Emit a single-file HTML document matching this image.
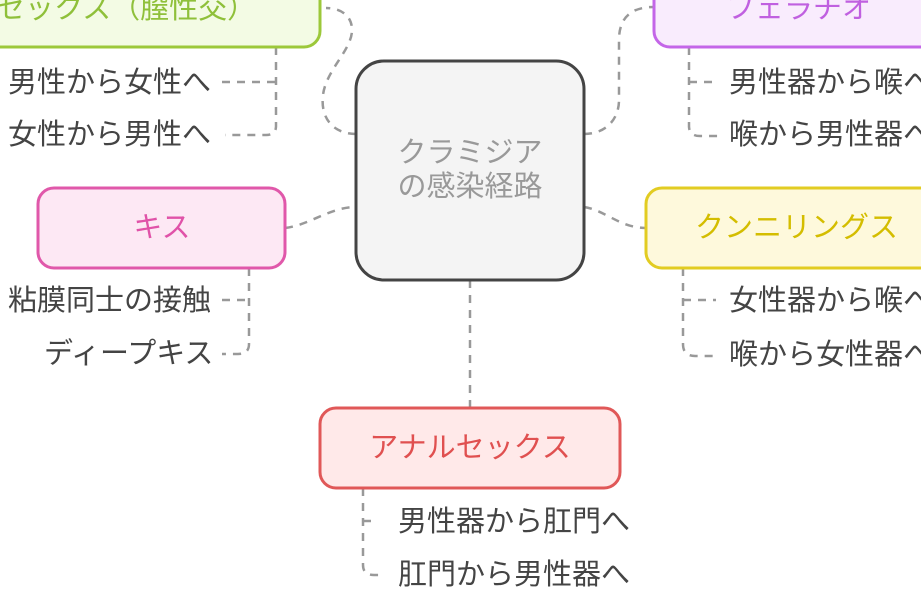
<!DOCTYPE html>
<html><head><meta charset="utf-8"><style>
html,body{margin:0;padding:0;background:#fff;width:921px;height:596px;overflow:hidden}
svg{display:block}
text{font-family:"Liberation Sans","Noto Sans CJK JP",sans-serif;font-size:29px}
.c{fill:#444}
.l{fill:none;stroke:#999;stroke-width:2.5;stroke-dasharray:8 7}
</style></head><body>
<svg width="921" height="596" viewBox="0 0 921 596" xmlns="http://www.w3.org/2000/svg">
<path class="l" d="M356 134 C335 134 320 120 323 95 C326 70 352 50 352 30 C352 15 340 8 326 8"/>
<path class="l" d="M276 47 V126 Q276 135 266 135 H225"/>
<path class="l" d="M222 82 H276"/>
<path class="l" d="M285 228 C310 225 330 207 356 207"/>
<path class="l" d="M249 268 V344 Q249 354 238 354 H222"/>
<path class="l" d="M222 300 H249"/>
<path class="l" d="M584 134 C605 134 619 120 619 100 V40 Q619 7 654 7"/>
<path class="l" d="M689 47 V126 Q689 136 700 136 H718"/>
<path class="l" d="M689 82 H716"/>
<path class="l" d="M584 207 C605 210 620 228 646 228"/>
<path class="l" d="M683 268 V344 Q683 356 695 356 H718"/>
<path class="l" d="M683 300 H716"/>
<path class="l" d="M470 280 V408"/>
<path class="l" d="M363 488 V565 Q363 575 374 575 H380"/>
<path class="l" d="M363 521 H376"/>
<rect x="356" y="61" width="228" height="219" rx="28" fill="#f4f4f4" stroke="#444" stroke-width="3"/>
<text x="470" y="162" text-anchor="middle" fill="#999">クラミジア</text>
<text x="470" y="196" text-anchor="middle" fill="#999">の感染経路</text>
<rect x="-20" y="-40" width="340" height="87" rx="16" fill="#f3fbe4" stroke="#9cc83a" stroke-width="3"/>
<text x="-4" y="18" fill="#8fc03a">セックス（膣性交）</text>
<text class="c" x="8" y="92">男性から女性へ</text>
<text class="c" x="8" y="144">女性から男性へ</text>
<rect x="38" y="188" width="247" height="80" rx="16" fill="#fde8f4" stroke="#e058aa" stroke-width="3"/>
<text x="162" y="237" text-anchor="middle" fill="#e052a8">キス</text>
<text class="c" x="8" y="310">粘膜同士の接触</text>
<text class="c" x="44" y="363">ディープキス</text>
<rect x="654" y="-40" width="300" height="87" rx="16" fill="#f9ecfd" stroke="#c466e8" stroke-width="3"/>
<text x="726" y="18" fill="#c060e0">フェラチオ</text>
<text class="c" x="729" y="92">男性器から喉へ</text>
<text class="c" x="729" y="144">喉から男性器へ</text>
<rect x="646" y="188" width="300" height="80" rx="16" fill="#fef9dc" stroke="#e2cc22" stroke-width="3"/>
<text x="695" y="237" fill="#d4bd00">クンニリングス</text>
<text class="c" x="729" y="310">女性器から喉へ</text>
<text class="c" x="729" y="364">喉から女性器へ</text>
<rect x="320" y="408" width="300" height="80" rx="16" fill="#ffe9e9" stroke="#e05858" stroke-width="3"/>
<text x="470" y="457" text-anchor="middle" fill="#e05050">アナルセックス</text>
<text class="c" x="398" y="531">男性器から肛門へ</text>
<text class="c" x="398" y="584">肛門から男性器へ</text>
</svg>
</body></html>
